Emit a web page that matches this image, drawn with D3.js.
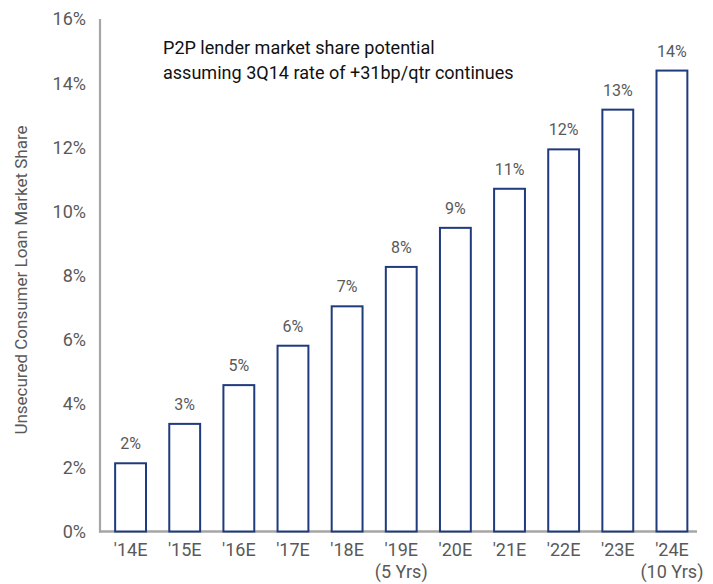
<!DOCTYPE html>
<html><head><meta charset="utf-8">
<script src="https://cdn.jsdelivr.net/npm/d3@7"></script>
<style>body{margin:0;background:#fff;} svg{display:block;}</style>
</head><body>
<svg id="c" width="713" height="584"></svg>
<script>
const categories = ["'14E","'15E","'16E","'17E","'18E","'19E","'20E","'21E","'22E","'23E","'24E"];
const subLabels = ["","","","","","(5 Yrs)","","","","","(10 Yrs)"];
const shareValues = [2.13, 3.36, 4.57, 5.80, 7.03, 8.26, 9.48, 10.70, 11.93, 13.17, 14.39];
const yTicks = [0,2,4,6,8,10,12,14,16];
const titleLines = ["P2P lender market share potential","assuming 3Q14 rate of +31bp/qtr continues"];
const yAxisTitle = "Unsecured Consumer Loan Market Share";

const FONT = "'Roboto',sans-serif";
const svg = d3.select("#c");
const x = d3.scaleBand().domain(categories).range([103.5, 699]).paddingInner(0.43).paddingOuter(0.215);
const y = d3.scaleLinear().domain([0,16]).range([531.5, 19]);

// y tick labels
svg.append("g").selectAll("text").data(yTicks).join("text")
  .attr("x", 86).attr("y", d => y(d)).attr("dy", "0.36em")
  .attr("text-anchor","end").attr("font-family",FONT).attr("font-size",18)
  .attr("fill","#595959").text(d => d + "%");

// axis lines
svg.append("line").attr("x1",100).attr("x2",100).attr("y1",y(16)).attr("y2",y(0)+1)
  .attr("stroke","#a6a6a6").attr("stroke-width",2.2);
svg.append("line").attr("x1",99).attr("x2",697).attr("y1",y(0)).attr("y2",y(0))
  .attr("stroke","#a6a6a6").attr("stroke-width",2.5);

// bars
svg.append("g").selectAll("rect").data(shareValues).join("rect")
  .attr("x",(d,i)=>x(categories[i])).attr("width",x.bandwidth())
  .attr("y",d=>y(d)).attr("height",d=>y(0)-y(d))
  .attr("fill","#fff").attr("stroke","#1f3a7d").attr("stroke-width",2);

// data labels
svg.append("g").selectAll("text").data(shareValues).join("text")
  .attr("x",(d,i)=>x(categories[i])+x.bandwidth()/2).attr("y",d=>y(d)-14)
  .attr("text-anchor","middle").attr("font-family",FONT).attr("font-size",16)
  .attr("fill","#595959").text(d=>Math.round(d)+"%");

// x labels
svg.append("g").selectAll("text").data(categories).join("text")
  .attr("x",(d)=>x(d)+x.bandwidth()/2).attr("y",556)
  .attr("text-anchor","middle").attr("font-family",FONT).attr("font-size",18)
  .attr("fill","#595959").text(d=>d);
svg.append("g").selectAll("text").data(subLabels).join("text")
  .attr("x",(d,i)=>x(categories[i])+x.bandwidth()/2).attr("y",578)
  .attr("text-anchor","middle").attr("font-family",FONT).attr("font-size",18)
  .attr("fill","#595959").text(d=>d);

// title
svg.append("g").selectAll("text").data(titleLines).join("text")
  .attr("transform",(d,i)=>`translate(163,${54+i*25}) scale(0.95,1)`)
  .attr("font-family",FONT).attr("font-size",19).attr("fill","#111").text(d=>d);

// y axis title
svg.append("text").attr("transform","translate(27,280) rotate(-90)")
  .attr("text-anchor","middle").attr("font-family",FONT).attr("font-size",17)
  .attr("fill","#595959").text(yAxisTitle);
</script>
</body></html>
